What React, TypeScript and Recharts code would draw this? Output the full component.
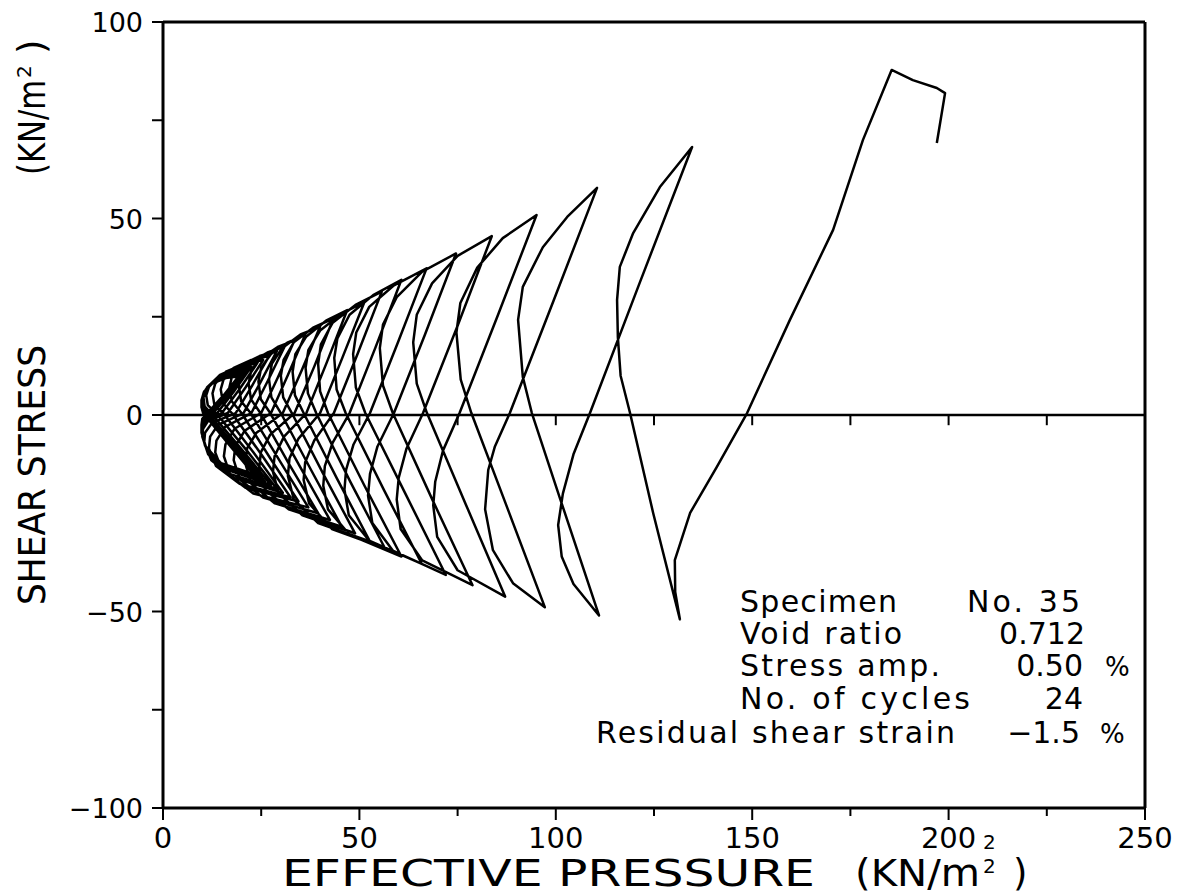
import { LineChart, Line, XAxis, YAxis, ReferenceLine } from 'recharts';

// effective pressure (kN/m2), shear stress (kN/m2)
const openingPath: [number, number][] = [
  [197, 69.2], [199.1, 81.9], [197, 83.2], [190.9, 85.2], [185.5, 87.8],
];

// cycles 1-4
const earlyCycles: [number, number][] = [
  [178.2, 70], [170.6, 47.1], [159.6, 24.2], [148.7, 0.5], [141, -13.2], [134.2, -24.9], [130.3, -36.9], [130.4, -45], [131.6, -52],
  [124.8, -25], [118.9, 0.5], [116.5, 10], [115.8, 19.8], [115.6, 29.3], [116.3, 37.7], [119.7, 46.3], [126.5, 58], [134.7, 68.2],
  [121.5, 34], [108.7, 0.5], [104.5, -10], [101.8, -20], [100.6, -28], [101.5, -36], [104.5, -43], [111, -51],
  [101, -21], [93.9, 0.5], [91.6, 9.7], [90.4, 24.2], [91.6, 32.6], [96.7, 42.7], [102.9, 50.4], [110.5, 57.8],
  [99.4, 29], [88.3, 0.5], [84.5, -8], [82.8, -14], [82, -24], [84, -34.4], [89.1, -42.8], [97.2, -48.9],
  [87.8, -24], [78.5, 0.5], [75.8, 9], [74.7, 21], [75.7, 28.5], [80, 37.5], [86.5, 45], [95.1, 50.9],
  [85.3, 25.5], [75.5, 0.5], [71.3, -9], [69.3, -17], [68.8, -23], [69.8, -31], [75, -39.5], [87.1, -46.2],
];

// cycles 5-12
const middleCycles: [number, number][] = [
  [77.2, -23], [67.2, 0.5], [64.6, 8], [63.7, 18.5], [64.6, 25.5], [68.5, 33.5], [75, 40.5], [83.7, 45.5],
  [75, 22.7], [66.2, 0.5], [62, -8.5], [60, -16], [59.5, -21.5], [60.5, -29], [66, -37], [78.8, -43.3],
  [68.6, -21.6], [58.5, 0.5], [56, 7.5], [55.2, 17], [56, 23], [59.5, 30], [66, 36.5], [74.6, 41.1],
  [66.7, 20.5], [58.8, 0.5], [54.6, -8], [52.7, -15], [52.2, -20.5], [53.3, -27.5], [58.5, -34.5], [72, -40.7],
  [61.7, -20], [51.5, 0.5], [49.1, 7], [48.4, 15.5], [49.2, 21], [52.5, 27.5], [58.8, 33], [67.1, 37.3],
  [59.9, 18.7], [52.7, 0.5], [48.5, -7.5], [46.6, -14], [46.2, -19], [47.3, -25.5], [52.5, -32], [65.9, -37.9],
  [56.2, -19], [46.5, 0.5], [44.2, 6.5], [43.6, 14.5], [44.4, 19.5], [47.5, 25.5], [53.5, 30.5], [60.7, 34.4],
  [54.1, 17.2], [47.5, 0.5], [43.2, -7], [41.2, -13], [40.8, -18], [42, -24], [47.5, -30.5], [60.7, -36],
  [51.3, -18], [42, 0.5], [40, 6], [39.5, 13], [40.2, 18], [43.2, 23.5], [49, 28], [55.7, 31.4],
  [49.6, 15.7], [43.5, 0.5], [38.5, -6.5], [36.2, -12], [35.8, -16.5], [37.2, -22.5], [43, -29], [56.5, -33.9],
  [47.7, -17], [39, 0.5], [36.9, 5.5], [36.3, 12], [37, 16.5], [40, 21.5], [45.5, 25.8], [51.3, 28.8],
  [45.6, 14.4], [40, 0.5], [34.5, -6], [32.2, -11], [31.8, -15.5], [33.3, -21.5], [39.5, -27.5], [52.7, -32.2],
  [44.2, -16], [35.8, 0.5], [33.6, 5], [33, 11], [33.7, 15.5], [36.5, 20], [41.5, 24], [46.9, 26.7],
  [41.7, 13.4], [36.5, 0.5], [30.8, -5.5], [28.4, -10.5], [28, -14.5], [29.5, -20], [35.5, -25.5], [48.9, -30.1],
  [40.8, -15], [32.8, 0.5], [30.6, 4.5], [30, 10], [30.7, 14], [33.3, 18.5], [38.2, 22.2], [43.4, 24.6],
  [38.5, 12.3], [33.5, 0.5], [27.3, -5], [24.9, -9.5], [24.5, -13.5], [26, -19], [32, -24], [45.5, -28.4],
];

// cycles 13-24
const lateCycles: [number, number][] = [
  [37.7, -14], [30, 0.5], [27.6, 4.5], [27, 9], [27.7, 13], [30.3, 17], [35, 20.5], [40, 22.5],
  [35.3, 11.3], [30.5, 0.5], [23.8, -4.5], [21.4, -8.5], [21, -12.5], [22.5, -17.5], [28.5, -22.5], [42.5, -26.7],
  [34.8, -13], [27.3, 0.5], [24.9, 4], [24.3, 8.5], [25, 12], [27.5, 15.5], [31.8, 18.5], [36.2, 20.4],
  [31.8, 10.2], [27.5, 0.5], [20.8, -4], [18.4, -8], [18, -11.5], [19.6, -16.5], [25.5, -21], [39.5, -25],
  [32.1, -12.5], [24.8, 0.5], [22.4, 4], [21.8, 8], [22.5, 11.5], [25, 14.5], [29.2, 17.3], [33.5, 19],
  [29.2, 9.5], [25, 0.5], [18.2, -3.5], [15.9, -7.5], [15.5, -10.5], [17.2, -15.5], [23, -20], [37, -23.5],
  [29.6, -11.5], [22.3, 0.5], [19.9, 3.5], [19.3, 7.5], [20, 10.5], [22.5, 13.5], [26.8, 16], [31, 17.5],
  [26.7, 8.7], [22.5, 0.5], [15.8, -3], [13.6, -6.5], [13.3, -9.5], [15, -14], [21, -18.5], [34.5, -22],
  [27.3, -11], [20, 0.5], [17.5, 3.5], [16.9, 7], [17.6, 10], [20.2, 12.8], [24.6, 15], [29, 16.3],
  [24.7, 8.1], [20.5, 0.5], [14, -2.5], [12, -5.5], [11.7, -8.5], [13.5, -13], [19.5, -17.5], [32.5, -21],
  [25, -10], [17.5, 0.5], [15.3, 3], [14.7, 6.5], [15.4, 9], [18, 12], [22.5, 14], [27, 15],
  [22.7, 7.5], [18.5, 0.5], [12.5, -2], [10.7, -4.5], [10.5, -7], [12.3, -11.5], [18, -16], [30.5, -19.8],
  [23, -9.5], [15.3, 0.5], [13.1, 2.5], [12.6, 5.5], [13.3, 8], [16, 11], [20.8, 13], [25.5, 14],
  [21, 7], [16.5, 0.5], [11.5, -1.5], [10.2, -3.5], [10, -5.5], [11.5, -10], [17, -15], [29, -18.8],
  [21.3, -9], [13.5, 0.5], [11.4, 2.5], [11, 5], [11.8, 7.5], [14.5, 10.2], [19.3, 12.3], [24, 13.2],
  [19.5, 6.6], [15, 0.5], [11, -1.2], [10, -3], [9.9, -4.8], [11.2, -9], [16.5, -14], [27.5, -17.8],
  [19.8, -8.5], [12.2, 0.5], [10.6, 2.2], [10.3, 4.5], [11.2, 7], [13.8, 9.5], [18.2, 11.5], [22.5, 12.3],
  [18.2, 6.2], [13.8, 0.5], [10.7, -1], [9.9, -2.8], [9.8, -4.5], [11, -8.5], [16, -13.5], [26, -17],
  [18.6, -8], [11.3, 0.5], [10.2, 2], [10, 4.2], [10.9, 6.5], [13.4, 9], [17.5, 10.8], [21.5, 11.5],
  [17.2, 5.8], [12.8, 0.5], [10.4, -1], [9.8, -2.6], [9.8, -4.3], [10.9, -8.2], [15.5, -13], [25, -16.2],
  [17.8, -7.7], [10.7, 0.5], [10, 2], [9.9, 4], [10.7, 6.2], [13, 8.5], [16.8, 10.2], [20.5, 10.8],
  [16.3, 5.4], [12, 0.5], [10.2, -1], [9.8, -2.5], [9.8, -4.2], [10.8, -8], [15, -12.5], [24, -15.5],
  [17.2, -7.5], [10.4, 0.5], [9.9, 2], [9.8, 3.8], [10.5, 6], [12.7, 8.2], [16.2, 9.7], [19.5, 10.2],
  [15.5, 5.1], [11.3, 0.5], [10, -1], [9.8, -2.5], [9.8, -4.2], [10.7, -7.8], [14.6, -12.2], [23, -15],
  [16.5, -7.2], [10.2, 0.5], [9.8, 2], [9.8, 3.7], [10.4, 5.8], [12.5, 8], [16, 9.4], [19, 9.8],
];

const xTicks = [0, 25, 50, 75, 100, 125, 150, 175, 200, 225, 250];
const yTicks = [-100, -75, -50, -25, 0, 25, 50, 75, 100];
const zeroLineTicks = [25, 50, 75, 100, 125, 150, 175, 200, 225];

const data = [...openingPath, ...earlyCycles, ...middleCycles, ...lateCycles].map(([x, y]) => ({ x, y }));

const FONT = '"DejaVu Sans", Arial, sans-serif';

function XTick(props: any) {
  const { x, y, payload } = props;
  const major = payload.value % 50 === 0;
  return (
    <g>
      <line x1={x} y1={y} x2={x} y2={y + (major ? 12 : 8)} stroke="#000" strokeWidth={2} />
      {major && (
        <text x={x} y={y + 40} textAnchor="middle" fontSize={29} fontFamily={FONT} fill="#000">
          {payload.value}
        </text>
      )}
    </g>
  );
}

function YTick(props: any) {
  const { x, y, payload } = props;
  const v = payload.value;
  const major = v % 50 === 0;
  return (
    <g>
      <line x1={x - 11} y1={y} x2={x} y2={y} stroke="#000" strokeWidth={2} />
      {major && (
        <text x={x - 20} y={y + 10} textAnchor="end" fontSize={27} fontFamily={FONT} fill="#000">
          {v < 0 ? `\u2212${-v}` : v}
        </text>
      )}
    </g>
  );
}

export default function App() {
  const txt = { fontFamily: FONT, fill: '#000' };
  return (
    <div style={{ position: 'relative', width: 1180, height: 888, background: '#fff' }}>
      <LineChart
        width={1180}
        height={888}
        data={data}
        margin={{ top: 14, right: 43, bottom: 8, left: 95 }}
      >
        <XAxis
          dataKey="x"
          type="number"
          domain={[0, 250]}
          ticks={xTicks}
          interval={0}
          allowDataOverflow
          height={80}
          axisLine={{ stroke: '#000', strokeWidth: 3 }}
          tickLine={false}
          tickSize={0}
          tickMargin={0}
          tick={<XTick />}
        />
        <YAxis
          dataKey="y"
          type="number"
          domain={[-100, 100]}
          ticks={yTicks}
          interval={0}
          allowDataOverflow
          width={60}
          axisLine={{ stroke: '#000', strokeWidth: 3 }}
          tickLine={false}
          tickSize={0}
          tickMargin={0}
          tick={<YTick />}
        />
        <ReferenceLine y={100} stroke="#000" strokeWidth={3} />
        <ReferenceLine x={250} stroke="#000" strokeWidth={3} />
        <ReferenceLine y={0} stroke="#000" strokeWidth={2.5} />
        {zeroLineTicks.map((t) => (
          <ReferenceLine
            key={t}
            segment={[{ x: t, y: 0 }, { x: t, y: -2.6 }]}
            stroke="#000"
            strokeWidth={2}
          />
        ))}
        <Line
          dataKey="y"
          type="linear"
          stroke="#000"
          strokeWidth={2.5}
          strokeLinejoin="round"
          dot={false}
          activeDot={false}
          isAnimationActive={false}
        />
      </LineChart>
      <svg
        width={1180}
        height={888}
        style={{ position: 'absolute', left: 0, top: 0, pointerEvents: 'none' }}
      >
        {/* axis titles */}
        <text x={274} y={878} fontSize={37} textLength={533} lengthAdjust="spacingAndGlyphs" {...txt}>
          EFFECTIVE PRESSURE
        </text>
        <text x={847} y={878} fontSize={37} textLength={125} lengthAdjust="spacingAndGlyphs" {...txt}>
          (KN/m
        </text>
        <text x={975} y={865} fontSize={20} {...txt}>2</text>
        <text x={975} y={841} fontSize={20} {...txt}>2</text>
        <text x={1005} y={878} fontSize={37} {...txt}>)</text>

        <g transform="rotate(-90)">
          <text x={-597} y={37} fontSize={37} textLength={260} lengthAdjust="spacingAndGlyphs" {...txt}>
            SHEAR STRESS
          </text>
          <text x={-167} y={37} fontSize={37} textLength={95} lengthAdjust="spacingAndGlyphs" {...txt}>
            (KN/m
          </text>
          <text x={-70} y={23} fontSize={20} {...txt}>2</text>
          <text x={-46} y={37} fontSize={37} {...txt}>)</text>
        </g>

        {/* test record */}
        <text x={732} y={604} fontSize={30} textLength={157} lengthAdjust="spacing" {...txt}>Specimen</text>
        <text x={1072} y={604} fontSize={30} textAnchor="end" textLength={113} lengthAdjust="spacing" {...txt}>No. 35</text>
        <text x={732} y={636} fontSize={30} textLength={162} lengthAdjust="spacing" {...txt}>Void ratio</text>
        <text x={1077} y={636} fontSize={30} textAnchor="end" {...txt}>0.712</text>
        <text x={732} y={668} fontSize={30} textLength={200} lengthAdjust="spacing" {...txt}>Stress amp.</text>
        <text x={1075} y={668} fontSize={30} textAnchor="end" {...txt}>0.50</text>
        <text x={1097} y={668} fontSize={26} {...txt}>%</text>
        <text x={732} y={701} fontSize={30} textLength={230} lengthAdjust="spacing" {...txt}>No. of cycles</text>
        <text x={1075} y={701} fontSize={30} textAnchor="end" {...txt}>24</text>
        <text x={588} y={735} fontSize={30} textLength={359} lengthAdjust="spacing" {...txt}>Residual shear strain</text>
        <text x={1072} y={735} fontSize={30} textAnchor="end" {...txt}>{'\u22121.5'}</text>
        <text x={1092} y={735} fontSize={26} {...txt}>%</text>
      </svg>
    </div>
  );
}
